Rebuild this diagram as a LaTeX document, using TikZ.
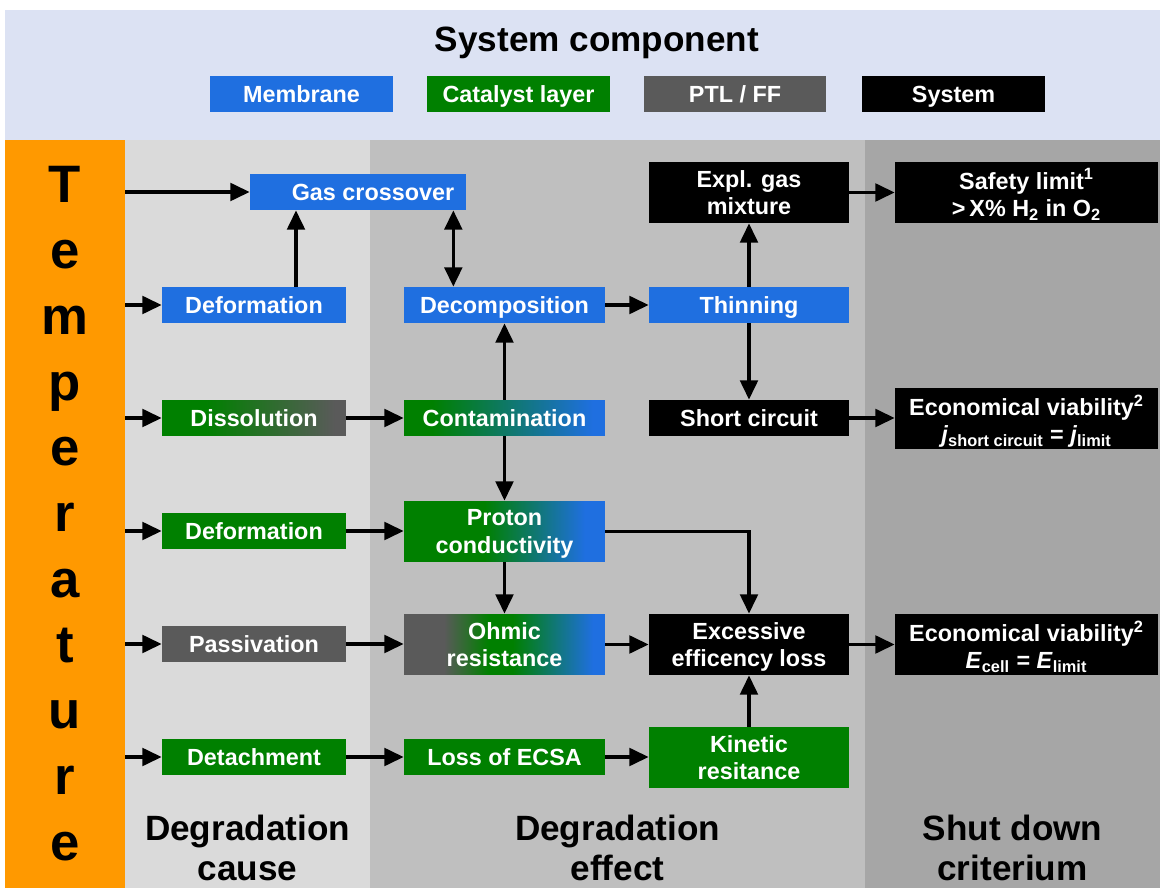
\documentclass[tikz,border=0pt]{standalone}
\usepackage{fontspec}
\setmainfont{Liberation Sans}
\usetikzlibrary{arrows.meta}
\definecolor{cblue}{HTML}{1F6FE0}
\definecolor{cgreen}{HTML}{008000}
\definecolor{cgray}{HTML}{5A5A5A}
\definecolor{corange}{HTML}{FF9900}
\definecolor{ctop}{HTML}{DCE2F3}
\definecolor{ccause}{HTML}{DADADA}
\definecolor{ceffect}{HTML}{BFBFBF}
\definecolor{cshut}{HTML}{A6A6A6}
\pgfdeclarehorizontalshading{dissh}{100bp}{color(0bp)=(cgreen); color(37bp)=(cgreen); color(72bp)=(cgray); color(100bp)=(cgray)}
\pgfdeclarehorizontalshading{contsh}{100bp}{color(0bp)=(cgreen); color(32bp)=(cgreen); color(72bp)=(cblue); color(100bp)=(cblue)}
\pgfdeclarehorizontalshading{protsh}{100bp}{color(0bp)=(cgreen); color(45bp)=(cgreen); color(70bp)=(cblue); color(100bp)=(cblue)}
\pgfdeclarehorizontalshading{ohmsh}{100bp}{color(0bp)=(cgray); color(35bp)=(cgray); color(46bp)=(cgreen); color(52bp)=(cgreen); color(72bp)=(cblue); color(100bp)=(cblue)}
\begin{document}
\begin{tikzpicture}[x=0.02cm,y=-0.02cm,
  box/.style={rectangle, inner sep=0pt, text=white, align=center, text depth=0pt, font=\fontsize{13.3}{15.5}\selectfont\bfseries},
  sb/.style={box, minimum width=3.68cm, minimum height=0.72cm},
  mb/.style={box, minimum width=4.02cm, minimum height=0.72cm},
  mbb/.style={box, minimum width=4.02cm, minimum height=1.22cm},
  rb/.style={box, minimum width=4.0cm, minimum height=0.72cm},
  rbb/.style={box, minimum width=4.0cm, minimum height=1.22cm},
  fb/.style={box, minimum width=5.26cm, minimum height=1.22cm},
  lg/.style={box, minimum width=3.66cm, minimum height=0.72cm},
  arr/.style={line width=2pt, -{Triangle[length=11pt,width=10pt]}},
  dbl/.style={line width=2pt, {Triangle[length=11pt,width=10pt]}-{Triangle[length=11pt,width=10pt]}},
  letter/.style={font=\fontsize{30}{30}\selectfont\bfseries, anchor=base, inner sep=0pt},
  collabel/.style={font=\fontsize{20}{22.7}\selectfont\bfseries, align=center, anchor=north, inner sep=0pt}
]
\useasboundingbox (0,0) rectangle (1160,888);
\fill[white] (0,0) rectangle (1160,888);
\fill[ctop] (5,10) rectangle (1160,140);
\fill[ccause] (125,140) rectangle (370,888);
\fill[ceffect] (370,140) rectangle (865,888);
\fill[cshut] (865,140) rectangle (1160,888);
\node[fill=corange, minimum width=2.4cm, minimum height=14.96cm, inner sep=0pt] (temp) at (65,514) {};

% title and legend
\node[font=\fontsize{20}{24}\selectfont\bfseries, anchor=base, inner sep=0pt] (title) at (597,52) {System component};
\node[lg, fill=cblue] (lmem) at (301.5,94) {Membrane};
\node[lg, fill=cgreen] (lcat) at (518.5,94) {Catalyst layer};
\node[lg, fill=cgray] (lptl) at (735,94) {PTL / FF};
\node[lg, fill=black] (lsys) at (953.5,94) {System};

% Temperature letters
\node[letter] (l1) at (65,203) {T};
\node[letter] (l2) at (65,268.7) {e};
\node[letter] (l3) at (65,334.4) {m};
\node[letter] (l4) at (65,400.1) {p};
\node[letter] (l5) at (65,465.8) {e};
\node[letter] (l6) at (65,531.5) {r};
\node[letter] (l7) at (65,597.2) {a};
\node[letter] (l8) at (65,662.9) {t};
\node[letter] (l9) at (65,728.6) {u};
\node[letter] (l10) at (65,794.3) {r};
\node[letter] (l11) at (65,860) {e};

% column labels
\node[collabel] (ccause) at (247.5,815) {Degradation\\cause};
\node[collabel] (ceffect) at (617.5,815) {Degradation\\effect};
\node[collabel] (cshut) at (1012.5,815) {Shut down\\criterium};

% boxes
\node[box, fill=cblue, minimum width=4.32cm, minimum height=0.72cm] (gas) at (358,192) {\hspace*{0.6cm}Gas crossover};
\node[sb, fill=cblue] (defb) at (254,305) {Deformation};
\node[mb, fill=cblue] (decomp) at (504.5,305) {Decomposition};
\node[rb, fill=cblue] (thin) at (749,305) {Thinning};
\node[rbb, fill=black] (expl) at (749,192.5) {Expl. gas\\mixture};
\node[fb, fill=black] (safety) at (1026.5,192.5) {Safety limit\textsuperscript{1}\\{>}\,X\% H\textsubscript{2} in O\textsubscript{2}};
\node[sb, shading=dissh] (diss) at (254,418) {Dissolution};
\node[mb, shading=contsh] (contam) at (504.5,418) {Contamination};
\node[rb, fill=black] (short) at (749,418) {Short circuit};
\node[fb, fill=black] (econa) at (1026.5,418.5) {Economical viability\textsuperscript{2}\\\textit{j}\textsubscript{short circuit} = \textit{j}\textsubscript{limit}};
\node[sb, fill=cgreen] (defg) at (254,531) {Deformation};
\node[mbb, shading=protsh] (proton) at (504.5,531.5) {Proton\\conductivity};
\node[sb, fill=cgray] (pass) at (254,644) {Passivation};
\node[mbb, shading=ohmsh] (ohmic) at (504.5,644.5) {Ohmic\\resistance};
\node[rbb, fill=black] (exc) at (749,644.5) {Excessive\\efficency loss};
\node[fb, fill=black] (econb) at (1026.5,644.5) {Economical viability\textsuperscript{2}\\\textit{E}\textsubscript{cell} = \textit{E}\textsubscript{limit}};
\node[sb, fill=cgreen] (detach) at (254,757) {Detachment};
\node[mb, fill=cgreen] (ecsa) at (504.5,757) {Loss of ECSA};
\node[rbb, fill=cgreen] (kin) at (749,757.5) {Kinetic\\resitance};

% connectors from temperature
\draw[arr] (temp.east |- gas.west) -- (gas.west);
\draw[arr] (temp.east |- defb.west) -- (defb.west);
\draw[arr] (temp.east |- diss.west) -- (diss.west);
\draw[arr] (temp.east |- defg.west) -- (defg.west);
\draw[arr] (temp.east |- pass.west) -- (pass.west);
\draw[arr] (temp.east |- detach.west) -- (detach.west);

% other connectors
\draw[arr] ([xshift=0.84cm]defb.north) -- ([xshift=0.84cm]defb.north |- gas.south);
\draw[dbl] ([xshift=-0.26cm]gas.south east) -- ([xshift=-0.26cm]gas.south east |- decomp.north);
\draw[arr] (decomp.east) -- (thin.west);
\draw[arr] (thin.north) -- (expl.south);
\draw[arr] (thin.south) -- (short.north);
\draw[arr] (expl.east) -- (expl.east -| safety.west);
\draw[arr] (short.east) -- (short.east -| econa.west);
\draw[arr] (diss.east) -- (contam.west);
\draw[arr] (contam.north) -- (decomp.south);
\draw[arr] (contam.south) -- (proton.north);
\draw[arr] (defg.east) -- (defg.east -| proton.west);
\draw[arr] (proton.south) -- (ohmic.north);
\draw[arr] (proton.east) -| (exc.north);
\draw[arr] (pass.east) -- (pass.east -| ohmic.west);
\draw[arr] (ohmic.east) -- (exc.west);
\draw[arr] (exc.east) -- (econb.west);
\draw[arr] (detach.east) -- (ecsa.west);
\draw[arr] (ecsa.east) -- (ecsa.east -| kin.west);
\draw[arr] (kin.north) -- (exc.south);
\end{tikzpicture}
\end{document}
